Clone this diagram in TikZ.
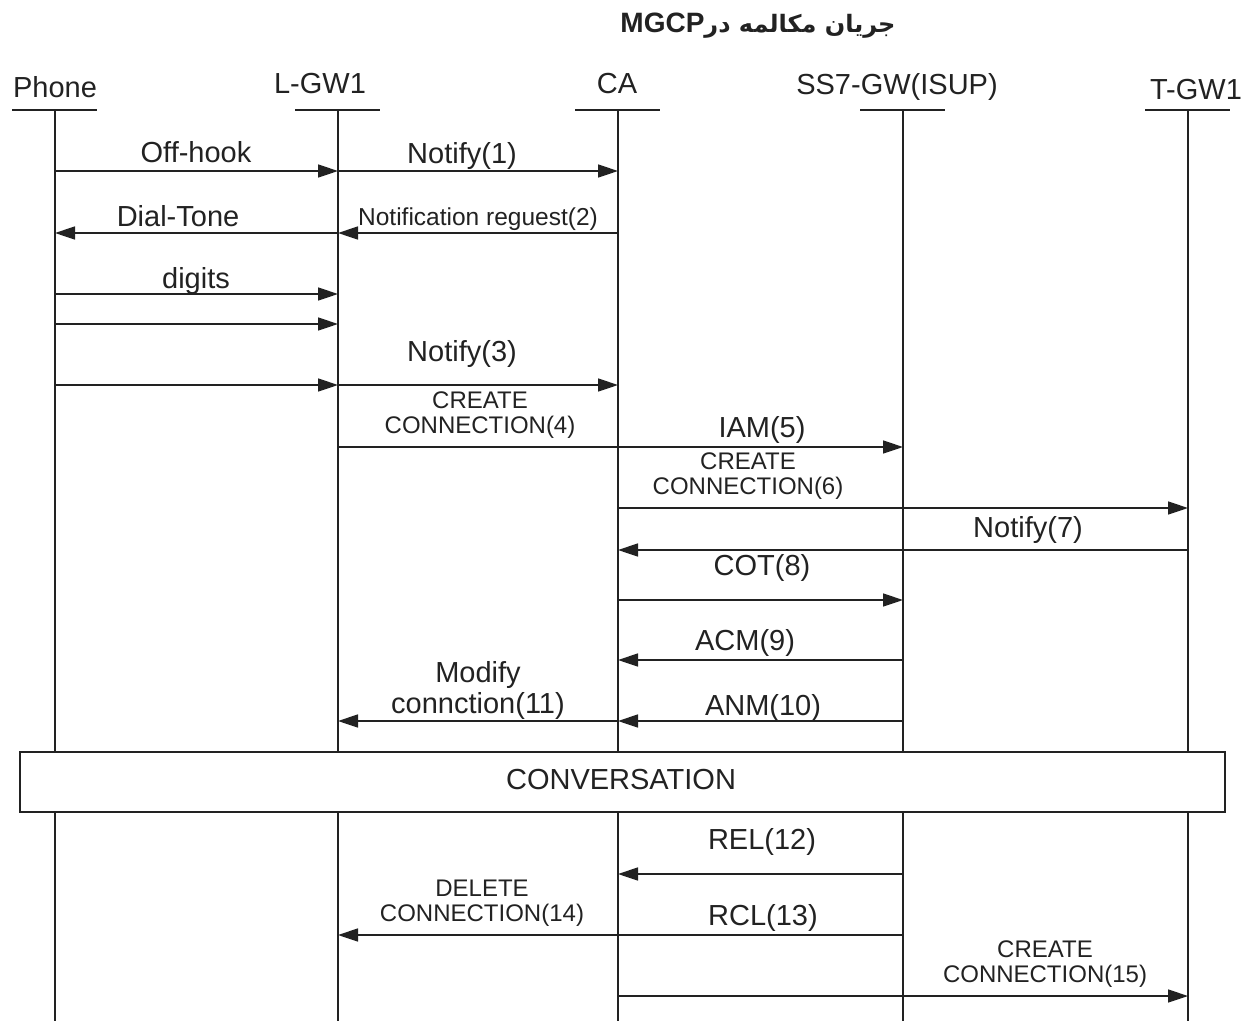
\documentclass[tikz,border=0pt]{standalone}
\usepackage{fontspec}
\setmainfont{Liberation Sans}
\newfontfamily\arabicfont[Script=Arabic]{DejaVu Sans}
\newfontfamily\latinbold{Liberation Sans Bold}
\TeXXeTstate=1
\usetikzlibrary{arrows.meta}
\definecolor{ink}{HTML}{222222}
\tikzset{
  lifeline/.style={draw=ink, line width=1.6pt},
  headbar/.style={draw=ink, line width=1.4pt},
  msg/.style={draw=ink, line width=1.6pt, -{Triangle[length=20pt,width=13pt]}},
  big/.style={text=ink, font=\fontsize{29}{31}\selectfont, inner sep=0pt, align=center},
  mid/.style={text=ink, font=\fontsize{24.5}{26}\selectfont, inner sep=0pt, align=center},
  small/.style={text=ink, font=\fontsize{24}{25.5}\selectfont, inner sep=0pt, align=center},
  convbox/.style={draw=ink, line width=1.4pt, fill=white, minimum width=1205pt, minimum height=60pt, inner sep=0pt}
}
\begin{document}
\begin{tikzpicture}[x=1pt,y=-1pt]
\useasboundingbox (0,0) rectangle (1247,1021);
% title
\node[text=ink, inner sep=0pt] (title) at (758,26) {\arabicfont\bfseries\fontsize{24}{26}\selectfont\beginR جریان  مکالمه در\beginL{\latinbold\fontsize{28}{30}\selectfont MGCP}\endL\endR};
% headers
\node[big] (hph) at (55,87) {Phone};
\node[big] (hlg) at (320,84) {L-GW1};
\node[big] (hca) at (617,84) {CA};
\node[big] (hss) at (897,87) {SS7-GW(ISUP)};
\node[big] (htg) at (1196,90) {T-GW1};
\foreach \n/\x in {ph/55,lg/338,ca/618,ss/903,tg/1188} {
  \coordinate (\n-top) at (\x,110);
  \coordinate (\n-bot) at (\x,1021);
  \coordinate (\n-l) at (\x-43,110);
  \coordinate (\n-r) at (\x+42,110);
  \foreach \y in {171,233,294,324,385,447,508,550,600,660,721,874,935,996} {
    \coordinate (\n-\y) at (\x,\y);
  }
}
\foreach \n in {ph,lg,ca,ss,tg} {
  \draw[headbar] (\n-l) -- (\n-r);
  \draw[lifeline] (\n-top) -- (\n-bot);
}
% messages
\draw[msg] (ph-171) -- (lg-171);
\node[big] (l1) at (196,152) {Off-hook};
\draw[msg] (lg-171) -- (ca-171);
\node[big] (l2) at (462,156) {Notify(1)};
\draw[msg] (lg-233) -- (ph-233);
\node[big] (l3) at (178,216) {Dial-Tone};
\draw[msg] (ca-233) -- (lg-233);
\node[mid] (l4) at (478,219) {Notification reguest(2)};
\draw[msg] (ph-294) -- (lg-294);
\node[big] (l5) at (196,281) {digits};
\draw[msg] (ph-324) -- (lg-324);
\draw[msg] (ph-385) -- (lg-385);
\draw[msg] (lg-385) -- (ca-385);
\node[big] (l6) at (462,354) {Notify(3)};
\draw[msg] (lg-447) -- (ss-447);
\node[small] (l7) at (480,415) {CREATE\\CONNECTION(4)};
\node[big] (l8) at (762,430) {IAM(5)};
\draw[msg] (ca-508) -- (tg-508);
\node[small] (l9) at (748,476) {CREATE\\CONNECTION(6)};
\draw[msg] (tg-550) -- (ca-550);
\node[big] (l10) at (1028,530) {Notify(7)};
\draw[msg] (ca-600) -- (ss-600);
\node[big] (l11) at (762,568) {COT(8)};
\draw[msg] (ss-660) -- (ca-660);
\node[big] (l12) at (745,643) {ACM(9)};
\draw[msg] (ss-721) -- (ca-721);
\node[big] (l13) at (763,708) {ANM(10)};
\draw[msg] (ca-721) -- (lg-721);
\node[big] (l14) at (478,690) {Modify\\connction(11)};
% conversation
\node[convbox] (conv) at (622.5,782) {};
\node[big] (convt) at (621,780) {CONVERSATION};
\draw[msg] (ss-874) -- (ca-874);
\node[big] (l15) at (762,842) {REL(12)};
\draw[msg] (ss-935) -- (lg-935);
\node[big] (l16) at (763,918) {RCL(13)};
\node[small] (l17) at (482,903) {DELETE\\CONNECTION(14)};
\draw[msg] (ca-996) -- (tg-996);
\node[small] (l18) at (1045,964) {CREATE\\CONNECTION(15)};
\end{tikzpicture}
\end{document}
